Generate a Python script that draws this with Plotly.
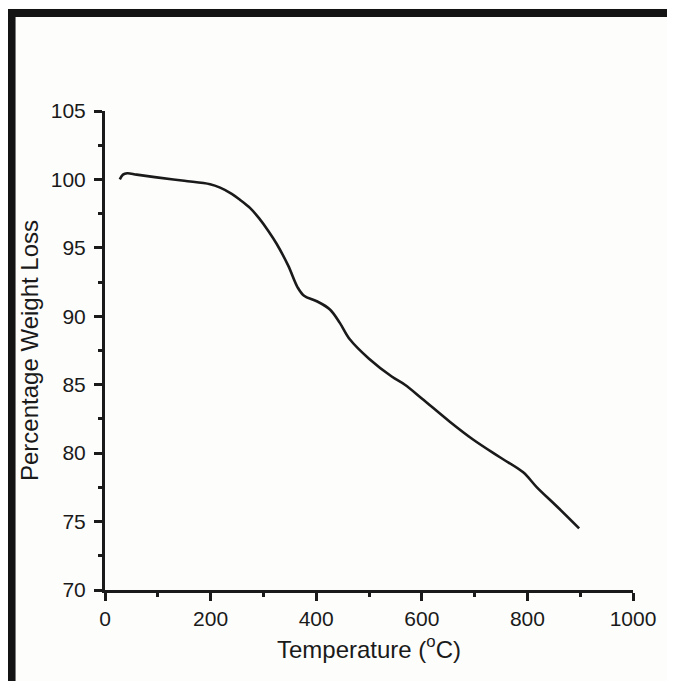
import plotly.graph_objects as go

# TGA curve
temperature = [28, 34, 42, 60, 98, 150, 199, 218, 240, 256, 275, 292, 310, 325,
               347, 365, 377, 401, 426, 445, 464, 500, 543, 568, 600, 653, 697,
               748, 792, 818, 856, 898]
weight = [100.0, 100.35, 100.45, 100.35, 100.15, 99.9, 99.65, 99.4, 98.95, 98.5,
          97.9, 97.15, 96.2, 95.3, 93.7, 92.1, 91.5, 91.1, 90.5, 89.5, 88.3, 86.9,
          85.6, 85.0, 84.0, 82.3, 81.0, 79.7, 78.6, 77.5, 76.1, 74.5]

x_ticks = [0, 200, 400, 600, 800, 1000]
y_ticks = [70, 75, 80, 85, 90, 95, 100, 105]

FONT = 'Liberation Sans, Arial, sans-serif'
INK = '#1a1a1a'

fig = go.Figure()
fig.add_trace(go.Scatter(
    x=temperature,
    y=weight,
    mode='lines',
    line=dict(color=INK, width=2.6, shape='spline', smoothing=1.0),
    showlegend=False,
))

axis_common = dict(
    showline=True, linewidth=3, linecolor=INK,
    ticks='outside', ticklen=8, tickwidth=3, tickcolor=INK,
    showgrid=False, zeroline=False,
    tickfont=dict(family=FONT, size=21, color=INK),
)

fig.update_xaxes(
    range=[0, 1000], tickvals=x_ticks,
    minor=dict(ticks='outside', ticklen=4, tickwidth=3, tickcolor=INK, dtick=100),
    title=dict(text='Temperature (<sup>o</sup>C)', font=dict(family=FONT, size=24, color=INK),
               standoff=12),
    **axis_common,
)
fig.update_yaxes(
    range=[70, 105], tickvals=y_ticks,
    minor=dict(ticks='outside', ticklen=4, tickwidth=3, tickcolor=INK, dtick=2.5),
    ticklabelstandoff=4,
    title=dict(text='Percentage Weight Loss', font=dict(family=FONT, size=24, color=INK),
               standoff=6),
    **axis_common,
)

# black frame around the figure (left and top), drawn in paper units
fig.add_shape(type='path', xref='paper', yref='paper',
              path='M -0.177 -0.30 L -0.177 1.2046 L 1.20 1.2046',
              line=dict(color='#141414', width=8))

fig.update_layout(
    width=667, height=673,
    margin=dict(l=97, r=42, t=103, b=91),
    paper_bgcolor='#fdfdfc',
    plot_bgcolor='#fdfdfc',
)

fig.write_html('out.html')
